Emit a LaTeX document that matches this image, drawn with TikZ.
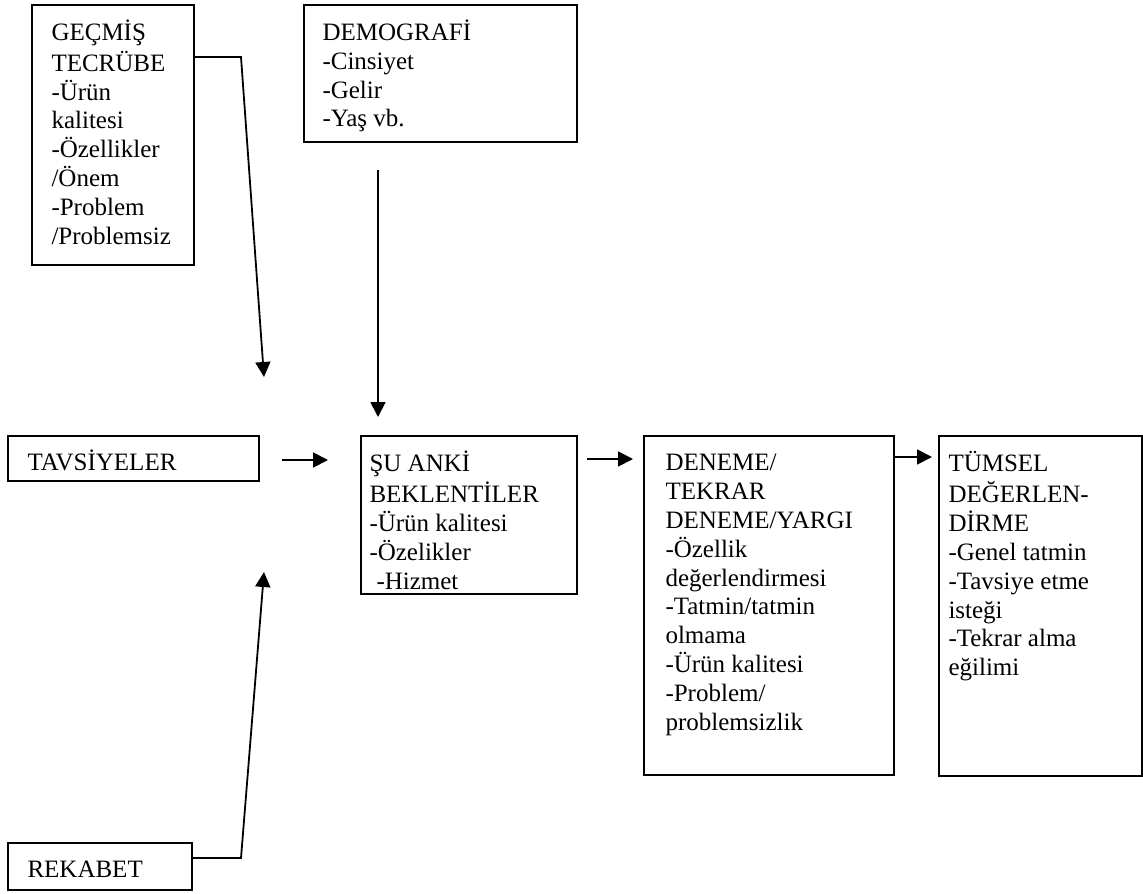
\documentclass[tikz,border=0pt]{standalone}
\usepackage{fontspec}
\setmainfont{Liberation Serif}
\usetikzlibrary{arrows.meta,fit,calc}
\begin{document}
\begin{tikzpicture}[x={(0.5pt,0pt)},y={(0pt,-0.5pt)},
  box/.style={draw, line width=0.9pt, inner sep=0pt},
  txt/.style={anchor=north west, inner sep=0pt, align=left, font=\fontsize{12.5}{14.4}\selectfont},
  arr/.style={line width=0.9pt, -{Triangle[length=7.5pt,width=7.5pt]}}]
\useasboundingbox (0,0) rectangle (1143,893);

% boxes
\node[box, fit={(32,5) (194,265)}] (g) {};
\node[txt] (gt) at ([shift={(20,15.3)}]g.north west) {\strut GEÇMİŞ\\TECRÜBE\\-Ürün\\kalitesi\\-Özellikler\\/Önem\\-Problem\\/Problemsiz};

\node[box, fit={(304,5) (577,142)}] (dm) {};
\node[txt] (dmt) at ([shift={(19,15.3)}]dm.north west) {\strut DEMOGRAFİ\\-Cinsiyet\\-Gelir\\-Yaş vb.};

\node[box, fit={(8,436) (259,481)}] (tv) {};
\node[txt] (tvt) at ([shift={(20,14)}]tv.north west) {\strut TAVSİYELER};

\node[box, fit={(361,436) (577,594)}] (su) {};
\node[txt] (sut) at ([shift={(9,15.3)}]su.north west) {\strut ŞU ANKİ\\BEKLENTİLER\\-Ürün kalitesi\\-Özelikler\\\hspace*{3.5pt}-Hizmet};

\node[box, fit={(644,436) (894,775)}] (dn) {};
\node[txt] (dnt) at ([shift={(22,15.3)}]dn.north west) {\strut DENEME/\\TEKRAR\\DENEME/YARGI\\-Özellik\\değerlendirmesi\\-Tatmin/tatmin\\olmama\\-Ürün kalitesi\\-Problem/\\problemsizlik};

\node[box, fit={(939,436) (1142,776)}] (tm) {};
\node[txt] (tmt) at ([shift={(10,15.3)}]tm.north west) {\strut TÜMSEL\\DEĞERLEN-\\DİRME\\-Genel tatmin\\-Tavsiye etme\\isteği\\-Tekrar alma\\eğilimi};

\node[box, fit={(8,843) (192,890)}] (rk) {};
\node[txt] (rkt) at ([shift={(20,15)}]rk.north west) {\strut REKABET};

% connectors
\coordinate (gb) at (241,57);
\coordinate (gtip) at (264,377);
\draw[arr] (g.east |- gb) -- (gb) -- (gtip);

\coordinate (ds) at (378,170);
\coordinate (dtip) at (378,417);
\draw[arr] (ds) -- (dtip);

\coordinate (a1s) at (282,460);
\coordinate (a1e) at (328,460);
\draw[arr] (a1s) -- (a1e);

\coordinate (a2s) at (587,459);
\coordinate (a2e) at (633,459);
\draw[arr] (a2s) -- (a2e);

\coordinate (a3e) at (932,457);
\draw[arr] (dn.east |- a3e) -- (a3e);

\coordinate (rb) at (241,858);
\coordinate (rtip) at (264,572);
\draw[arr] (rk.east |- rb) -- (rb) -- (rtip);
\end{tikzpicture}
\end{document}
